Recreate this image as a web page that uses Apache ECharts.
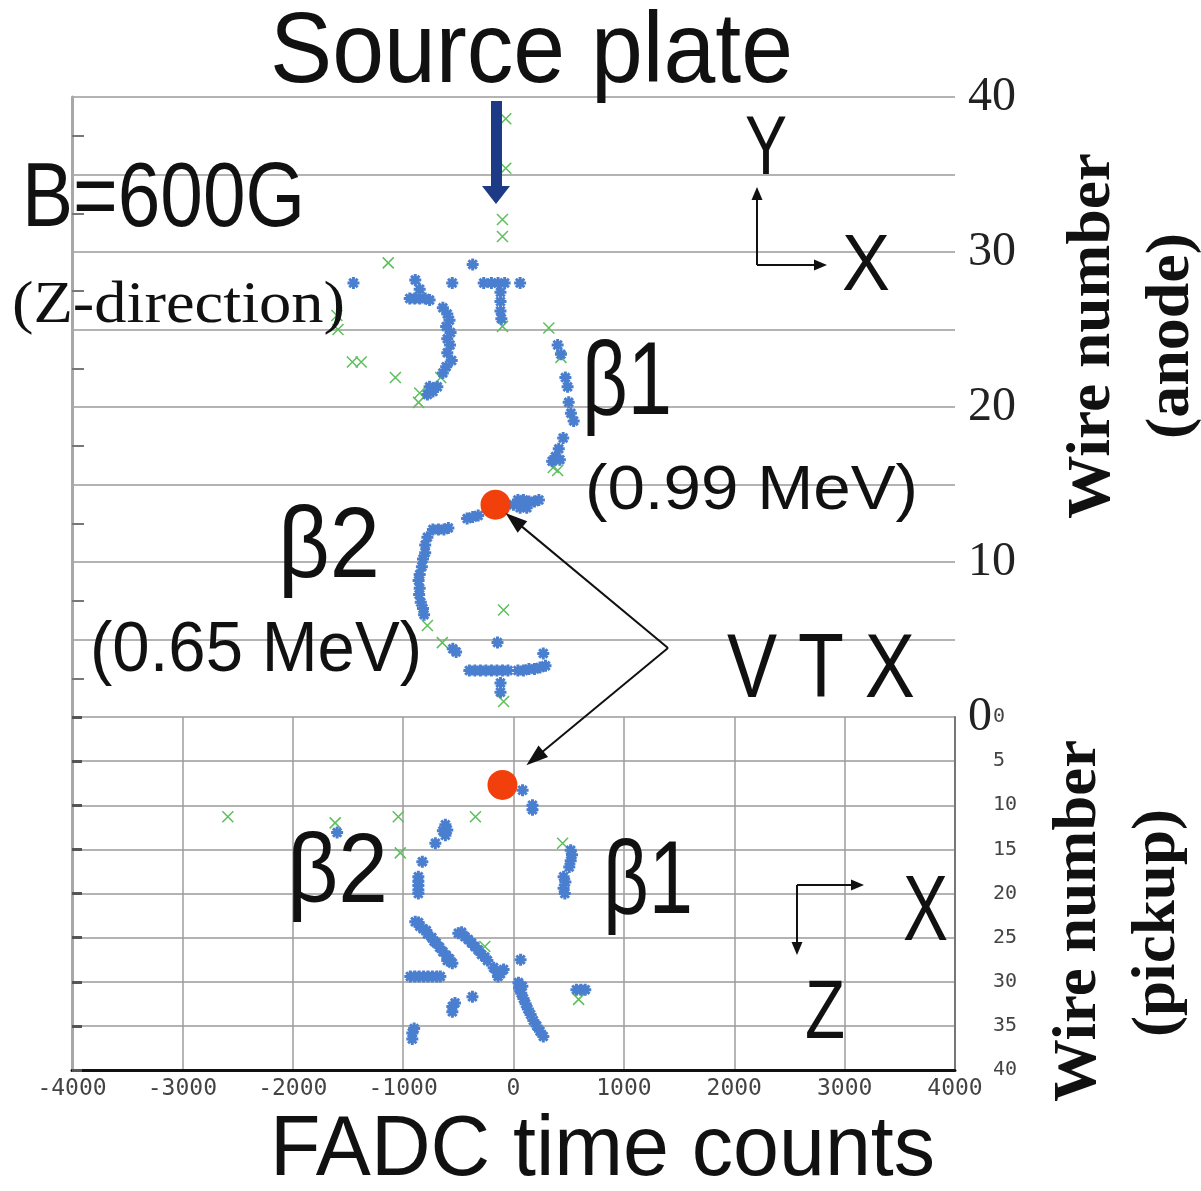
<!DOCTYPE html>
<html>
<head>
<meta charset="utf-8">
<script src="https://cdn.jsdelivr.net/npm/echarts@6/dist/echarts.min.js"></script>
<style>
  html, body { margin: 0; padding: 0; background: #fff; }
  #chart { width: 1201px; height: 1191px; }
</style>
</head>
<body>
<div id="chart"></div>
<script>
// FADC time axis (shared by both views)
const fadcRange = [-4000, 4000];
const fadcStep = 1000;
// anode wire numbers (X-Y view) and pickup wire numbers (X-Z view)
const anodeRange = [0, 40];
const anodeLabelStep = 10;
const pickupRange = [0, 40];
const wireGridStep = 5;

// X-Y view (anode): hits above threshold
const anodeBlue = [
  [-1450, 28.0], [-890, 28.2], [-850, 27.6], [-555, 28.0], [-370, 29.2], [-270, 28.0], [-200, 28.0],
  [-140, 28.0], [-80, 28.0], [60, 28.0],
  [-940, 27.0], [-895, 27.0], [-850, 27.0], [-800, 27.0], [-760, 26.9],
  [-640, 26.4], [-600, 26.0], [-580, 25.6], [-610, 25.2], [-570, 24.8], [-600, 24.4], [-575, 24.0],
  [-600, 23.5], [-560, 23.0], [-610, 22.6], [-640, 22.2],
  [-690, 21.3], [-730, 21.0], [-780, 20.8], [-760, 21.3],
  [-118, 27.4], [-118, 26.8], [-118, 26.2], [-110, 25.7],
  [400, 24.0], [430, 23.4], [470, 21.9], [490, 21.3], [500, 20.3], [545, 19.1], [520, 19.6],
  [450, 18.0], [410, 17.3], [380, 16.8], [350, 16.5], [420, 16.6],
  [-420, 12.8], [-370, 12.9], [-320, 13.0],
  [0, 13.7], [40, 14.0], [90, 14.0], [140, 13.9], [190, 13.9], [230, 14.0], [60, 13.5], [120, 13.5],
  [-730, 12.1], [-680, 12.1], [-630, 12.1], [-590, 12.2],
  [-780, 11.6], [-800, 11.1], [-800, 10.6], [-820, 10.2], [-830, 9.7], [-850, 9.2], [-860, 8.8],
  [-850, 8.3], [-855, 7.9], [-840, 7.4], [-820, 7.0], [-810, 6.6],
  [-520, 4.2], [-550, 4.4],
  [-400, 3.0], [-350, 3.0], [-300, 3.0], [-250, 3.0], [-200, 3.0], [-150, 3.0], [-100, 3.0], [-50, 3.0],
  [40, 3.0], [90, 3.0], [140, 3.1], [190, 3.1], [240, 3.2], [290, 3.3], [270, 4.1],
  [-145, 4.8], [-118, 2.2], [-118, 1.6]
];
// X-Y view (anode): low-level hits
const anodeGreen = [
  [-70, 38.6], [-70, 35.4], [-100, 32.1], [-100, 31.0], [-1135, 29.3], [-1600, 25.9], [-1590, 25.0],
  [-1460, 22.9], [-1380, 22.9], [-1070, 21.9], [-860, 20.3], [-850, 20.9], [-660, 21.9], [-100, 25.2],
  [320, 25.1], [430, 23.2], [360, 16.1], [400, 15.9], [-780, 5.9], [-645, 4.8], [-90, 6.9], [-90, 1.0]
];
// X-Z view (pickup): hits above threshold
const pickupBlue = [
  [82, 8.3], [172, 10.0], [172, 10.5],
  [-617, 12.2], [-600, 12.8], [-617, 13.4], [-640, 12.9], [-708, 14.3], [-826, 16.4], [-1598, 13.1],
  [-862, 18.1], [-862, 18.6], [-862, 19.1], [-862, 19.6], [-862, 20.0],
  [518, 15.1], [530, 15.6], [518, 16.3], [505, 17.0], [454, 18.1], [470, 18.7], [454, 19.4], [465, 20.0],
  [-890, 23.2], [-860, 23.3], [-850, 23.7], [-820, 24.0], [-790, 24.2], [-780, 24.6], [-740, 25.0],
  [-720, 25.4], [-700, 25.6], [-670, 26.1], [-640, 26.6], [-610, 27.0], [-580, 27.4], [-554, 27.9], [-600, 27.6],
  [-935, 29.4], [-895, 29.4], [-855, 29.4], [-815, 29.4], [-775, 29.4], [-735, 29.4], [-695, 29.4], [-663, 29.4],
  [-500, 24.5], [-470, 24.4], [-440, 24.9], [-410, 25.2], [-380, 25.6], [-350, 26.0], [-320, 26.4],
  [-290, 26.9], [-260, 27.2], [-236, 27.6],
  [-180, 28.4], [-150, 28.9], [-118, 29.1], [-90, 28.6], [-140, 29.4], [64, 27.5],
  [45, 30.1], [50, 30.7], [70, 31.3], [90, 31.9], [110, 32.5], [130, 33.1], [155, 33.7], [180, 34.4],
  [210, 35.0], [240, 35.6], [270, 36.2], [80, 30.5],
  [-554, 32.8], [-554, 33.4], [-530, 32.4], [-372, 31.7],
  [-917, 35.8], [-917, 36.5], [-900, 35.3],
  [570, 30.9], [610, 30.9], [650, 30.9]
];
// X-Z view (pickup): low-level hits
const pickupGreen = [
  [-2588, 11.3], [-1616, 12.0], [-1044, 11.3], [-1026, 15.4], [-345, 11.3], [445, 14.3], [590, 32.0], [-260, 26.0]
];
// reconstructed vertex in each view
const vertexAnode = [-163, 13.7];
const vertexPickup = [-100, 7.7];

const BLUE = '#4a7fd0';
const GREEN = '#5cbf5c';
const GRID_GRAY = '#b3b3b3';
const starPath = 'path://M5,0L5,10M0,5L10,5M1.5,1.5L8.5,8.5M8.5,1.5L1.5,8.5';
const crossPath = 'path://M0,0L10,10M10,0L0,10';

const chart = echarts.init(document.getElementById('chart'), null, { renderer: 'canvas' });

function hitSeries(data, xi, yi, isStar) {
  return {
    type: 'scatter', xAxisIndex: xi, yAxisIndex: yi, data: data,
    symbol: isStar ? starPath : crossPath,
    symbolSize: isStar ? 12 : 11,
    z: isStar ? 3 : 2,
    itemStyle: {
      color: 'transparent',
      opacity: 1,
      borderColor: isStar ? BLUE : GREEN,
      borderWidth: isStar ? 3 : 1.5
    },
    emphasis: { disabled: true }
  };
}

chart.setOption({
  animation: false,
  backgroundColor: '#ffffff',
  grid: [
    { left: 72, top: 97, width: 883, height: 620 },
    { left: 72, top: 717, width: 883, height: 353 }
  ],
  xAxis: [
    { type: 'value', gridIndex: 0, min: fadcRange[0], max: fadcRange[1], interval: fadcStep, show: false },
    {
      type: 'value', gridIndex: 1, min: fadcRange[0], max: fadcRange[1], interval: fadcStep,
      axisLine: { onZero: false, lineStyle: { color: '#111', width: 3 } },
      axisTick: { show: false },
      axisLabel: {
        fontFamily: 'DejaVu Sans Mono', fontSize: 23, color: '#444', margin: 8,
        formatter: (v) => String(v)
      },
      splitLine: { show: true, lineStyle: { color: '#9c9c9c', width: 1.5 } }
    }
  ],
  yAxis: [
    {
      type: 'value', gridIndex: 0, min: anodeRange[0], max: anodeRange[1], interval: wireGridStep,
      position: 'left',
      axisLine: { show: true, onZero: false, lineStyle: { color: '#a8a8a8', width: 3 } },
      axisTick: { show: false, inside: true },
      minorTick: { show: true, splitNumber: 2, length: 12, lineStyle: { color: '#777', width: 2 } },
      axisLabel: { show: false },
      splitLine: { show: true, lineStyle: { color: GRID_GRAY, width: 2 } }
    },
    {
      type: 'value', gridIndex: 0, min: anodeRange[0], max: anodeRange[1], interval: anodeLabelStep,
      position: 'right',
      axisLine: { show: false, onZero: false }, axisTick: { show: false }, splitLine: { show: false },
      axisLabel: { fontFamily: 'Liberation Serif', fontSize: 48, color: '#222', margin: 13 }
    },
    {
      type: 'value', gridIndex: 1, min: pickupRange[0], max: pickupRange[1], interval: wireGridStep,
      inverse: true, position: 'left',
      axisLine: { show: true, onZero: false, lineStyle: { color: '#a8a8a8', width: 3 } },
      axisTick: { show: true, inside: true, length: 10, lineStyle: { color: '#555', width: 3 } },
      axisLabel: { show: false },
      splitLine: { show: true, lineStyle: { color: GRID_GRAY, width: 2 } }
    },
    {
      type: 'value', gridIndex: 1, min: pickupRange[0], max: pickupRange[1], interval: wireGridStep,
      inverse: true, position: 'right',
      axisLine: { show: true, onZero: false, lineStyle: { color: '#777', width: 2 } },
      axisTick: { show: false }, splitLine: { show: false },
      axisLabel: { fontFamily: 'DejaVu Sans Mono', fontSize: 20, color: '#444', margin: 38 }
    }
  ],
  series: [
    hitSeries(anodeGreen, 0, 0, false),
    hitSeries(anodeBlue, 0, 0, true),
    hitSeries(pickupGreen, 1, 2, false),
    hitSeries(pickupBlue, 1, 2, true),
    {
      type: 'scatter', xAxisIndex: 0, yAxisIndex: 0, data: [vertexAnode],
      symbol: 'circle', symbolSize: 30, z: 5, itemStyle: { color: '#f2400c', opacity: 1 }
    },
    {
      type: 'scatter', xAxisIndex: 1, yAxisIndex: 2, data: [vertexPickup],
      symbol: 'circle', symbolSize: 30, z: 5, itemStyle: { color: '#f2400c', opacity: 1 }
    }
  ]
});

// ---- annotations ----
const measureCtx = document.createElement('canvas').getContext('2d');
function fitText(text, font, left, midY, width, extra) {
  measureCtx.font = font;
  const w = measureCtx.measureText(text).width;
  return Object.assign({
    type: 'text', z: 100, x: left, y: midY, scaleX: width ? width / w : 1,
    style: { text: text, font: font, fill: '#111', textAlign: 'left', textVerticalAlign: 'middle' }
  }, extra || {});
}
function vText(text, font, cx, cy, length) {
  measureCtx.font = font;
  const w = measureCtx.measureText(text).width;
  return {
    type: 'text', z: 100, x: cx, y: cy, rotation: Math.PI / 2, scaleX: length / w,
    style: { text: text, font: font, fill: '#111', textAlign: 'center', textVerticalAlign: 'middle' }
  };
}
function arrow(from, tip, lineW, headLen, headW, color) {
  const dx = tip[0] - from[0], dy = tip[1] - from[1];
  const d = Math.hypot(dx, dy), ux = dx / d, uy = dy / d;
  const bx = tip[0] - ux * headLen, by = tip[1] - uy * headLen;
  return [
    { type: 'line', z: 101, shape: { x1: from[0], y1: from[1], x2: bx + ux, y2: by + uy },
      style: { stroke: color, lineWidth: lineW } },
    { type: 'polygon', z: 101,
      shape: { points: [tip, [bx - uy * headW / 2, by + ux * headW / 2], [bx + uy * headW / 2, by - ux * headW / 2]] },
      style: { fill: color } }
  ];
}

const SANS = 'Liberation Sans, Arial, sans-serif';
const SERIF = 'Liberation Serif, Times New Roman, serif';
const elements = [
  fitText('Source plate', '100px ' + SANS, 270, 54, 523),
  fitText('B=600G', '90px ' + SANS, 22, 201, 283),
  fitText('(Z-direction)', '60px ' + SERIF, 12, 306, 333),
  fitText('Y', '84px ' + SANS, 745, 151, 42),
  fitText('X', '80px ' + SANS, 842, 268, 48),
  fitText('\u03b21', '104px ' + SANS, 582, 385, 90),
  fitText('(0.99 MeV)', '63px ' + SANS, 585, 492, 333),
  fitText('\u03b22', '100px ' + SANS, 278, 549, 102),
  fitText('(0.65 MeV)', '70px ' + SANS, 90, 652, 332),
  fitText('V T X', '90px ' + SANS, 727, 672, 188),
  fitText('\u03b22', '98px ' + SANS, 287, 875, 101),
  fitText('\u03b21', '103px ' + SANS, 603, 885, 90),
  fitText('X', '92px ' + SANS, 903, 915, 45),
  fitText('Z', '83px ' + SANS, 805, 1015, 40),
  fitText('FADC time counts', '86px ' + SANS, 270, 1151, 665),
  vText('Wire number', 'bold 62px ' + SERIF, 1093, 336, 366),
  vText('(anode)', 'bold 62px ' + SERIF, 1172, 336, 206),
  vText('Wire number', 'bold 62px ' + SERIF, 1079, 921, 362),
  vText('(pickup)', 'bold 62px ' + SERIF, 1158, 923, 228),
  // source plate marker
  { type: 'polygon', z: 101,
    shape: { points: [[491, 101], [502, 101], [502, 186], [510, 186], [496, 204], [482, 186], [491, 186]] },
    style: { fill: '#1c3a86' } }
];
// coordinate triads
elements.push(...arrow([757, 265], [757, 187], 2, 13, 11, '#111'));
elements.push(...arrow([757, 265], [827, 265], 2, 13, 11, '#111'));
elements.push(...arrow([797, 885], [864, 885], 2, 13, 11, '#111'));
elements.push(...arrow([797, 885], [797, 955], 2, 13, 11, '#111'));

// arrows from the VTX label to the vertex in each view
const apex = [668, 648];
function vertexTip(p, gap) {
  const dx = apex[0] - p[0], dy = apex[1] - p[1], d = Math.hypot(dx, dy);
  return [p[0] + dx / d * gap, p[1] + dy / d * gap];
}
const pA = chart.convertToPixel({ gridIndex: 0 }, vertexAnode);
const pP = chart.convertToPixel({ gridIndex: 1 }, vertexPickup);
elements.push(...arrow(apex, vertexTip(pA, 13), 2, 22, 15, '#111'));
elements.push(...arrow(apex, vertexTip(pP, 31), 2, 22, 15, '#111'));

chart.setOption({ graphic: { elements: elements } });
</script>
</body>
</html>
